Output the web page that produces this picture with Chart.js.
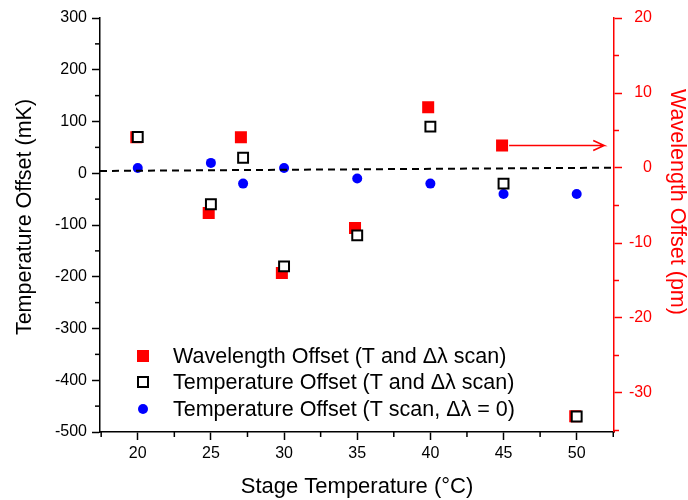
<!DOCTYPE html>
<html>
<head>
<meta charset="utf-8">
<title>Temperature / wavelength offset</title>
<script src="https://cdn.jsdelivr.net/npm/chart.js@4/dist/chart.umd.min.js"></script>
<style>
  html, body { margin:0; padding:0; background:#fff; }
  #wrap { width:688px; height:500px; position:relative; }
</style>
</head>
<body>
<div id="wrap"><canvas id="chart"></canvas></div>
<script>
// stage temperatures (°C)
const stageTemp = [20, 25, 27.2, 30, 35, 40, 45, 50];
// red squares are drawn a hair to the left of the open squares
const stageTempRed = [19.9, 24.85, 27.05, 29.85, 34.85, 39.85, 44.9, 49.9];

// series values
const wavelengthOffsetPm = [4.1, -6, 4.1, -14, -8, 8.1, 3, -33.1];   // right axis
const tempOffsetScan = [70, -60, 30, -180, -120, 90, -20, -470];      // left axis
const tempOffsetTOnly = [10, 20, -20, 10, -10, -20, -40, -40];        // left axis

// reference line and arrow (axis units)
const zeroLineX = [17.42, 52.55];
const zeroLineY = [4.4, 10.8];
const arrowX = [45.38, 51.88, 51.13, 51.88, 51.13];
const arrowY = [3, 3, 3.67, 3, 2.33];

// tick labels
const xTicks = [20, 25, 30, 35, 40, 45, 50];
const xMinor = [17.5, 22.5, 27.5, 32.5, 37.5, 42.5, 47.5, 52.5];
const yTicks = [300, 200, 100, 0, -100, -200, -300, -400, -500];
const yMinor = [250, 150, 50, -50, -150, -250, -350, -450];
const y2Ticks = [20, 10, 0, -10, -20, -30];
const y2Minor = [15, 5, -5, -15, -25, -35];

const legendLabels = [
  "Wavelength Offset (T and \u0394\u03bb scan)",
  "Temperature Offset (T and \u0394\u03bb scan)",
  "Temperature Offset (T scan, \u0394\u03bb = 0)"
];
const yTitle = "Temperature Offset (mK)";
const y2Title = "Wavelength Offset (pm)";

const RED = "#ff0000", BLUE = "#0000ff", BLACK = "#000000";
const FONT = "Arial, 'Liberation Sans', sans-serif";

const pts = (xs, ys) => xs.map((x, i) => ({ x, y: ys[i] }));
const fixTicks = (vals) => (scale) => { scale.ticks = vals.map(v => ({ value: v })); };

// ---------- minor ticks + y titles ----------
const axisExtras = {
  id: "axisExtras",
  afterDraw(chart){
    const {ctx, scales:{x, y, y2}} = chart;
    ctx.save();
    ctx.lineWidth = 1.5;
    ctx.strokeStyle = BLACK;
    for(const v of xMinor){
      const px = x.getPixelForValue(v);
      ctx.beginPath(); ctx.moveTo(px, x.top); ctx.lineTo(px, x.top + 5); ctx.stroke();
    }
    for(const v of yMinor){
      const py = y.getPixelForValue(v);
      ctx.beginPath(); ctx.moveTo(y.right, py); ctx.lineTo(y.right - 5, py); ctx.stroke();
    }
    ctx.strokeStyle = RED;
    for(const v of y2Minor){
      const py = y2.getPixelForValue(v);
      ctx.beginPath(); ctx.moveTo(y2.left, py); ctx.lineTo(y2.left + 5, py); ctx.stroke();
    }

    // axis titles (rotated)
    ctx.font = `21.5px ${FONT}`;
    ctx.textAlign = "center";
    ctx.textBaseline = "middle";
    ctx.fillStyle = BLACK;
    ctx.save(); ctx.translate(25, 217); ctx.rotate(-Math.PI / 2); ctx.fillText(yTitle, 0, 0); ctx.restore();
    ctx.fillStyle = RED;
    ctx.save(); ctx.translate(677, 202); ctx.rotate(Math.PI / 2); ctx.fillText(y2Title, 0, 0); ctx.restore();
    ctx.restore();
  }
};

// ---------- legend (inside plot, lower left) ----------
const insideLegend = {
  id: "insideLegend",
  afterDraw(chart){
    const {ctx} = chart;
    const mx = 143, tx = 173, rows = [356, 382, 409];
    ctx.save();
    ctx.font = `21.5px ${FONT}`;
    ctx.textBaseline = "middle";
    ctx.fillStyle = BLACK;
    legendLabels.forEach((t, i) => ctx.fillText(t, tx, rows[i] + 1));
    // markers
    ctx.fillStyle = RED;
    ctx.fillRect(mx - 6, rows[0] - 6, 12, 12);
    ctx.strokeStyle = BLACK; ctx.lineWidth = 2;
    ctx.strokeRect(mx - 5, rows[1] - 5, 10, 10);
    ctx.fillStyle = BLUE;
    ctx.beginPath(); ctx.arc(mx, rows[2], 5, 0, Math.PI * 2); ctx.fill();
    ctx.restore();
  }
};

const chart = new Chart(document.getElementById("chart").getContext("2d"), {
  type: "scatter",
  data: {
    datasets: [
      { label: "zero", data: pts(zeroLineX, zeroLineY), type: "line", yAxisID: "y",
        borderColor: BLACK, borderWidth: 2, borderDash: [7, 5], pointRadius: 0, fill: false },
      { label: "arrow", data: pts(arrowX, arrowY), type: "line", yAxisID: "y2",
        borderColor: RED, borderWidth: 1.5, pointRadius: 0, fill: false },
      { label: legendLabels[1], data: pts(stageTemp, tempOffsetScan), yAxisID: "y",
        pointStyle: "rect", pointRadius: 7, backgroundColor: "#ffffff", borderColor: BLACK, borderWidth: 2 },
      { label: legendLabels[0], data: pts(stageTempRed, wavelengthOffsetPm), yAxisID: "y2",
        pointStyle: "rect", pointRadius: 8.5, backgroundColor: RED, borderColor: RED, borderWidth: 0 },
      { label: legendLabels[2], data: pts(stageTemp, tempOffsetTOnly), yAxisID: "y",
        pointStyle: "circle", pointRadius: 5, backgroundColor: BLUE, borderColor: BLUE, borderWidth: 0 }
    ]
  },
  options: {
    responsive: true,
    maintainAspectRatio: false,
    animation: false,
    layout: { padding: { top: 18, left: 0, right: 36, bottom: 0 } },
    plugins: { legend: { display: false }, tooltip: { enabled: false } },
    scales: {
      x: {
        type: "linear", position: "bottom", min: 17.42, max: 52.55,
        afterBuildTicks: fixTicks(xTicks),
        afterFit: (s) => { s.height = 68; },
        grid: { drawOnChartArea: false, drawTicks: true, tickLength: 8, tickWidth: 1.5, tickColor: BLACK },
        border: { display: true, color: BLACK, width: 1.5 },
        ticks: { color: BLACK, font: { family: FONT, size: 16 }, padding: 4, maxRotation: 0 },
        title: { display: true, text: "Stage Temperature (\u00b0C)", color: BLACK,
                 font: { family: FONT, size: 22, lineHeight: 1 }, padding: { top: 0, bottom: 2 } }
      },
      y: {
        type: "linear", position: "left", min: -500, max: 300,
        afterBuildTicks: fixTicks(yTicks),
        afterFit: (s) => { s.width = 100; },
        grid: { drawOnChartArea: false, drawTicks: true, tickLength: 8, tickWidth: 1.5, tickColor: BLACK },
        border: { display: true, color: BLACK, width: 1.5 },
        ticks: { color: BLACK, font: { family: FONT, size: 16 }, padding: 5 }
      },
      y2: {
        type: "linear", position: "right", min: -35.2, max: 20,
        afterBuildTicks: fixTicks(y2Ticks),
        afterFit: (s) => { s.width = 38; },
        grid: { drawOnChartArea: false, drawTicks: true, tickLength: 8, tickWidth: 1.5, tickColor: RED },
        border: { display: true, color: RED, width: 1.5 },
        ticks: { color: RED, font: { family: FONT, size: 16 }, padding: 7, crossAlign: "far" }
      }
    }
  },
  plugins: [axisExtras, insideLegend]
});
</script>
</body>
</html>
